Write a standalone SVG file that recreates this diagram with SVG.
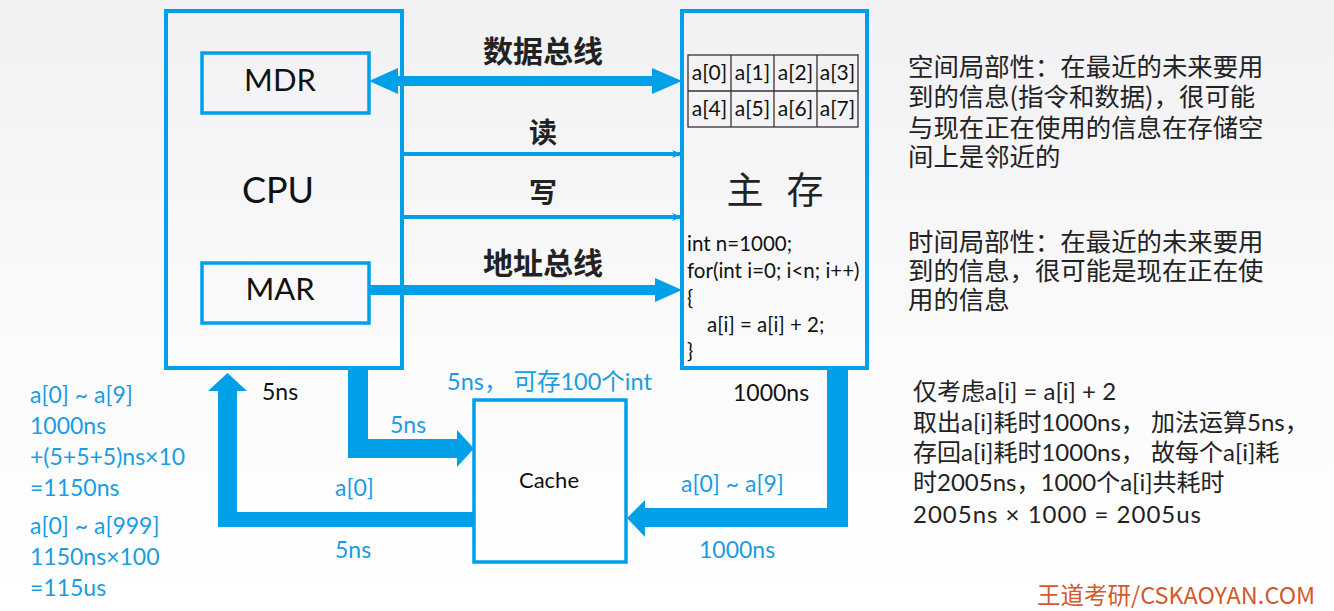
<svg xmlns="http://www.w3.org/2000/svg" width="1334" height="611" viewBox="0 0 1334 611">
<defs>
<linearGradient id="bg" x1="0" y1="0" x2="0" y2="1">
<stop offset="0" stop-color="#f1f1f3"/>
<stop offset="0.6" stop-color="#fbfbfc"/>
<stop offset="1" stop-color="#ffffff"/>
</linearGradient>
<marker id="thin" viewBox="0 0 10 10" refX="9" refY="5" markerWidth="10" markerHeight="10" markerUnits="userSpaceOnUse" orient="auto">
<path d="M0,1 L10,5 L0,9 L3,5 Z" fill="#00a0e9"/>
</marker>
</defs>
<style>
.box{fill:none;stroke:#00a0e9;stroke-width:4}
.sub{fill:none;stroke:#00a0e9;stroke-width:3.5}
.fat{fill:#00a0e9;stroke:none}
.thinline{stroke:#00a0e9;stroke-width:4;fill:none}
.lat{font-family:Lato,"Open Sans","Liberation Sans",sans-serif;fill:#111}
.cjk{font-family:"Noto Sans CJK SC","Noto Sans",sans-serif;fill:#222}
.mix{font-family:Lato,"Noto Sans CJK SC",sans-serif;fill:#222}
.cell{fill:none;stroke:#333;stroke-width:1.3}
text.blue{fill:#1a9ce2}
</style>
<rect x="0" y="0" width="1334" height="611" fill="url(#bg)"/>

<g id="connectors">
<polygon class="fat" points="369,81 398,68 398,76 652,76 652,68 682,81 652,94 652,86 398,86 398,94"/>
<line class="thinline" x1="402" y1="154" x2="681" y2="154" marker-end="url(#thin)"/>
<line class="thinline" x1="402" y1="217" x2="681" y2="217" marker-end="url(#thin)"/>
<polygon class="fat" points="369,285 655,285 655,278 682,290 655,302 655,295 369,295"/>
<polygon class="fat" points="348,368 368,368 368,439 457,439 457,430 474,448.5 457,467 457,458 348,458"/>
<polygon class="fat" points="473,512 473,527 218,527 218,391 208,391 227.5,373 247,391 237,391 237,512"/>
<polygon class="fat" points="827,368 848,368 848,527 645,527 645,537 627,518 645,500 645,508 827,508"/>
</g>

<g id="cpu">
<rect class="box" x="166" y="11" width="236" height="357"/>
<text class="lat" x="278" y="203" font-size="36" text-anchor="middle">CPU</text>
</g>
<g id="mdr">
<rect class="sub" x="202" y="53" width="167" height="60"/>
<text class="lat" x="280" y="91" font-size="31" text-anchor="middle">MDR</text>
</g>
<g id="mar">
<rect class="sub" x="202" y="263" width="167" height="60"/>
<text class="lat" x="280" y="300" font-size="31" text-anchor="middle">MAR</text>
</g>

<g id="memory">
<rect class="box" x="682" y="11" width="185" height="357"/>
<g id="array">
<rect class="cell" x="688" y="55" width="170" height="72"/>
<line class="cell" x1="688" y1="91" x2="858" y2="91"/>
<line class="cell" x1="731" y1="55" x2="731" y2="127"/>
<line class="cell" x1="774" y1="55" x2="774" y2="127"/>
<line class="cell" x1="817" y1="55" x2="817" y2="127"/>
<g class="lat" font-size="21" text-anchor="middle">
<text x="709.5" y="80">a[0]</text><text x="752.5" y="80">a[1]</text><text x="795.5" y="80">a[2]</text><text x="837.5" y="80">a[3]</text>
<text x="709.5" y="116">a[4]</text><text x="752.5" y="116">a[5]</text><text x="795.5" y="116">a[6]</text><text x="837.5" y="116">a[7]</text>
</g>
</g>
<g class="cjk" font-size="37" text-anchor="middle" fill="#111">
<text x="745" y="204">主</text>
<text x="805" y="204">存</text>
</g>
<g class="lat" font-size="20.5">
<text x="687" y="251">int n=1000;</text>
<text x="687" y="278">for(int i=0; i&lt;n; i++)</text>
<text x="687" y="305">{</text>
<text x="707" y="332">a[i] = a[i] + 2;</text>
<text x="687" y="358">}</text>
</g>
</g>

<g id="cache">
<rect class="sub" x="474" y="400" width="152" height="162"/>
<text class="lat" x="549" y="488" font-size="22" text-anchor="middle">Cache</text>
</g>

<g id="bus-labels" class="cjk" font-weight="bold" text-anchor="middle">
<text x="543" y="62" font-size="30">数据总线</text>
<text x="543" y="143" font-size="28">读</text>
<text x="543" y="203" font-size="28">写</text>
<text x="543" y="274" font-size="30">地址总线</text>
</g>

<g id="timing-labels" font-size="23">
<text class="lat" x="262" y="400">5ns</text>
<text class="lat" x="733" y="401">1000ns</text>
<text class="mix blue" x="447" y="390" font-size="23.5">5ns， 可存100个int</text>
<text class="lat blue" x="390" y="433">5ns</text>
<text class="lat blue" x="335" y="496">a[0]</text>
<text class="lat blue" x="335" y="558">5ns</text>
<text class="lat blue" x="681" y="492">a[0] ~ a[9]</text>
<text class="lat blue" x="699" y="558">1000ns</text>
</g>

<g id="left-notes" font-size="23">
<text class="lat blue" x="30" y="403">a[0] ~ a[9]</text>
<text class="lat blue" x="30" y="434">1000ns</text>
<text class="lat blue" x="30" y="465">+(5+5+5)ns×10</text>
<text class="lat blue" x="30" y="496">=1150ns</text>
<text class="lat blue" x="30" y="534">a[0] ~ a[999]</text>
<text class="lat blue" x="30" y="565">1150ns×100</text>
<text class="lat blue" x="30" y="596">=115us</text>
</g>

<g id="locality" class="cjk" font-size="25.4">
<text x="908" y="76">空间局部性：在最近的未来要用</text>
<text x="908" y="106">到的信息(指令和数据)，很可能</text>
<text x="908" y="137">与现在正在使用的信息在存储空</text>
<text x="908" y="166">间上是邻近的</text>
<text x="908" y="251">时间局部性：在最近的未来要用</text>
<text x="908" y="280">到的信息，很可能是现在正在使</text>
<text x="908" y="309">用的信息</text>
</g>

<g id="analysis" class="mix" font-size="24">
<text x="913" y="400">仅考虑a[i] = a[i] + 2</text>
<text x="913" y="431">取出a[i]耗时1000ns， 加法运算5ns，</text>
<text x="913" y="461">存回a[i]耗时1000ns， 故每个a[i]耗</text>
<text x="913" y="491">时2005ns，1000个a[i]共耗时</text>
<text x="913" y="523" letter-spacing="1">2005ns × 1000 = 2005us</text>
</g>

<text id="watermark" x="1037" y="604" font-family="'Noto Sans CJK SC','Liberation Sans',sans-serif" font-size="23.5" fill="#d4582c">王道考研/CSKAOYAN.COM</text>
</svg>
